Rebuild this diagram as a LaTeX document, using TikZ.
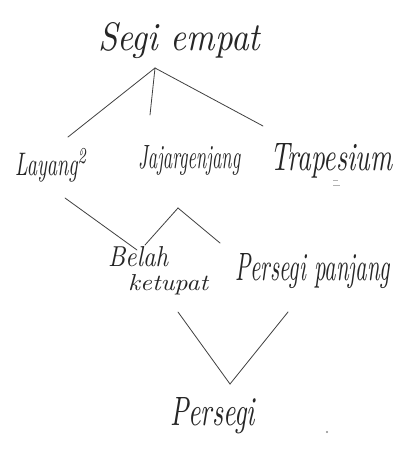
\documentclass[tikz,border=0pt]{standalone}
\usepackage{graphicx}
\begin{document}
\begin{tikzpicture}[x=1pt,y=-1pt,
  lbl/.style={inner sep=0pt, text=black!85, font=\itshape, anchor=base west},
  ln/.style={draw=black!75, line width=0.8pt, line cap=round}]
\useasboundingbox[fill=white] (0,0) rectangle (394,452);
% labels
\node[lbl] (segi) at (98,50) {\resizebox{162pt}{28pt}{Segi empat}};
\node[lbl] (lay) at (15,175) {\resizebox{72pt}{27pt}{Layang\textsuperscript{2}}};
\node[lbl] (jaj) at (138,168) {\resizebox{102pt}{23pt}{Jajargenjang}};
\node[lbl] (tra) at (270,170) {\resizebox{122pt}{27pt}{Trapesium}};
\node[lbl, anchor=north west] (bel) at (108,246) {\begin{tabular}{@{}l@{}}\resizebox{60pt}{20pt}{Belah}\\[5pt]\hspace{20pt}\resizebox{80pt}{16pt}{ketupat}\end{tabular}};
\node[lbl] (pp) at (235,280) {\resizebox{155pt}{27pt}{Persegi panjang}};
\node[lbl] (per) at (170,425) {\resizebox{85pt}{28pt}{Persegi}};
% connector ends
\coordinate (j1) at (155,68);
\coordinate (a1) at (68,137);
\coordinate (a2) at (150,115);
\coordinate (a3) at (263,126);
\coordinate (b1) at (65,198);
\coordinate (b2) at (137,250);
\coordinate (j2) at (178,208);
\coordinate (c1) at (145,245);
\coordinate (c2) at (220,243);
\coordinate (d1) at (178,312);
\coordinate (d2) at (288,312);
\coordinate (j3) at (230,384);
% connectors
\draw[ln] (j1) -- (a1);
\draw[ln] (j1) -- (a2);
\draw[ln] (j1) -- (a3);
\draw[ln] (b1) -- (b2);
\draw[ln] (j2) -- (c1);
\draw[ln] (j2) -- (c2);
\draw[ln] (d1) -- (j3);
\draw[ln] (d2) -- (j3);
% stray marks
\fill[black!45] (327,432) circle (1.2pt);
\draw[black!30, line width=0.6pt] (333,180) -- (338,180) (333,185) -- (340,185);
\end{tikzpicture}
\end{document}
